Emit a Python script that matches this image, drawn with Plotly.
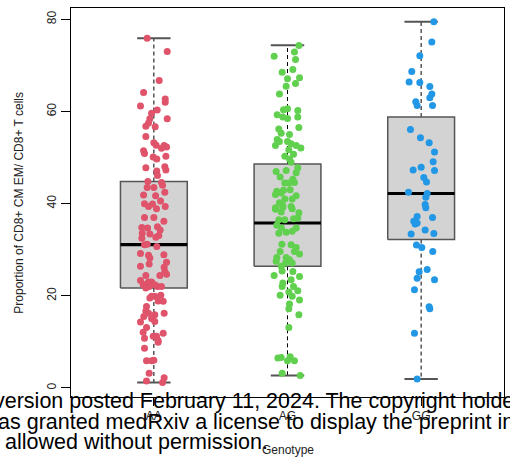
import plotly.graph_objects as go

# ---------------- data ----------------
categories = ["AA", "AG", "GG"]
tick_vals = [1, 2, 3]
q1 = [21.7, 26.4, 32.2]
median = [31.1, 35.8, 42.2]
q3 = [44.8, 48.6, 58.8]
lower = [1.2, 2.7, 1.95]
upper = [75.9, 74.4, 79.5]
y_ticks = [0, 20, 40, 60, 80]

aa_values = [75.9, 73.0, 66.7, 64.1, 62.7, 62.0, 61.2, 60.3, 59.6, 58.4, 58.4, 57.5, 56.8, 56.7,
             54.6, 53.2, 52.7, 52.6, 52.3, 52.0, 51.5, 50.9, 50.3, 50.1, 49.7, 47.8, 48.0, 47.3,
             47.1, 46.1, 44.8, 44.6, 43.5, 43.5, 44.0, 41.9, 41.7, 42.5, 40.0, 39.9, 40.6, 39.4,
             39.4, 38.9, 37.0, 37.0, 36.2, 34.8, 34.7, 35.0, 34.3, 33.6, 33.4, 33.1, 32.7, 32.5,
             31.1, 31.2, 30.7, 29.2, 28.8, 28.9, 28.2, 27.3, 26.4, 26.9, 26.2, 25.3, 24.7, 24.4,
             24.4, 23.3, 23.0, 23.0, 22.4, 22.5, 22.4, 22.0, 22.0, 21.7, 22.0, 19.9, 19.9, 20.1,
             19.5, 18.8, 18.9, 17.7, 16.7, 16.2, 15.9, 16.2, 15.5, 15.1, 14.3, 14.4, 13.1, 12.1,
             11.9, 11.2, 11.2, 10.8, 10.3, 9.9, 8.6, 5.9, 5.9, 6.0, 3.2, 1.5, 2.2, 1.2]
aa_jitter = [-0.05, 0.1, 0.04, -0.077, 0.085, 0.085, -0.1, 0.025, -0.017, 0.1, -0.03, -0.04, -0.06, 0.01,
             -0.06, 0.0, 0.017, 0.077, 0.095, 0.057, -0.077, -0.07, 0.09, -0.005, 0.022, -0.06, 0.082, 0.09,
             0.022, 0.027, -0.045, 0.057, -0.05, 0.0, 0.065, -0.077, 0.013, 0.082, -0.07, -0.01, 0.05, 0.085,
             -0.04, 0.02, -0.07, 0.0, 0.075, -0.09, -0.047, 0.027, 0.047, -0.087, -0.03, 0.037, 0.015, -0.09,
             -0.07, -0.05, 0.022, -0.1, -0.04, 0.075, -0.03, 0.095, -0.1, -0.035, 0.077, 0.082, 0.095, -0.06,
             0.045, -0.1, -0.04, -0.017, -0.08, -0.055, 0.007, 0.027, -0.035, -0.06, 0.057, -0.017, 0.007, 0.052,
             -0.03, 0.07, 0.032, -0.055, -0.06, -0.04, 0.007, 0.077, -0.075, -0.017, -0.1, 0.007, -0.055, -0.08,
             0.07, -0.005, 0.02, -0.07, 0.032, 0.032, -0.07, -0.055, -0.017, 0.0, -0.035, -0.055, 0.077, 0.065]

ag_values = [74.3, 72.0, 72.9, 71.3, 68.5, 69.1, 67.1, 67.3, 66.1, 65.5, 63.8, 60.6, 60.4, 60.2,
             59.3, 58.8, 58.5, 58.8, 56.5, 56.2, 55.3, 55.0, 53.9, 53.5, 53.0, 52.6, 52.1, 52.6,
             53.5, 51.7, 50.3, 50.7, 49.7, 49.0, 47.8, 47.0, 47.2, 46.7, 45.8, 45.3, 44.5, 44.5,
             44.6, 42.7, 42.3, 42.9, 43.0, 42.0, 41.7, 41.0, 41.0, 40.2, 39.6, 39.1, 39.4, 38.8,
             39.2, 38.9, 38.2, 38.0, 36.5, 36.5, 36.7, 36.9, 35.3, 34.7, 34.7, 33.6, 33.8, 34.0,
             31.2, 31.1, 30.5, 29.6, 29.1, 29.6, 28.3, 28.3, 27.5, 27.8, 27.1, 27.1, 26.4, 24.4,
             25.4, 25.3, 24.2, 23.5, 22.8, 22.0, 22.0, 21.1, 20.8, 20.1, 19.9, 19.1, 18.2, 17.2,
             15.9, 13.1, 6.5, 6.6, 6.8, 5.9, 5.9, 3.2, 2.7]
ag_jitter = [0.085, -0.1, 0.052, 0.06, -0.04, 0.04, 0.0, 0.09, 0.06, -0.01, -0.06, 0.0, -0.03, 0.077,
             -0.077, 0.077, 0.0, -0.035, 0.085, -0.065, -0.047, 0.015, -0.077, 0.0, 0.027, 0.065, 0.1, -0.09,
             -0.06, 0.01, -0.02, 0.045, 0.015, 0.027, 0.077, -0.085, -0.01, 0.065, -0.055, 0.04, -0.02, 0.01,
             0.052, -0.08, -0.047, -0.03, 0.02, -0.09, 0.065, -0.02, 0.035, -0.06, -0.035, -0.09, 0.027, -0.09,
             -0.035, 0.035, -0.047, 0.085, -0.065, -0.02, 0.045, 0.077, -0.08, -0.045, 0.065, -0.065, -0.01, 0.035,
             -0.042, 0.027, 0.065, 0.052, 0.09, -0.055, -0.08, -0.01, -0.085, 0.015, 0.035, -0.015, -0.047, -0.1,
             -0.04, 0.04, 0.09, 0.027, -0.035, -0.04, 0.045, 0.077, 0.01, -0.055, 0.035, 0.09, 0.015, 0.01,
             0.085, 0.01, -0.072, -0.047, 0.02, 0.0, 0.052, -0.04, 0.095]

gg_values = [79.5, 75.1, 72.1, 68.7, 66.4, 66.3, 65.4, 63.8, 63.0, 62.1, 61.3, 61.3, 56.1, 54.3,
             53.2, 51.2, 49.1, 47.3, 47.9, 47.2, 45.7, 44.7, 42.5, 42.2, 41.4, 39.8, 39.1, 37.2,
             37.0, 36.2, 35.8, 35.6, 34.3, 33.4, 33.5, 31.0, 30.5, 29.6, 25.2, 25.7, 23.8, 23.5,
             21.3, 17.6, 17.2, 11.9, 1.95]
gg_jitter = [0.095, 0.08, -0.01, -0.07, -0.09, -0.01, 0.065, 0.08, 0.065, -0.04, -0.03, 0.085, -0.08, -0.005,
             0.06, 0.1, 0.09, -0.06, 0.0, 0.1, 0.02, 0.04, -0.095, 0.045, 0.035, 0.03, 0.035, -0.03,
             0.085, -0.055, -0.03, -0.045, 0.03, -0.075, 0.095, -0.035, 0.005, 0.087, -0.015, 0.045, -0.03, 0.1,
             -0.05, 0.06, 0.065, -0.05, -0.03]

group_values = [aa_values, ag_values, gg_values]
group_jitter = [aa_jitter, ag_jitter, gg_jitter]
point_colors = ["#DF536B", "#61D04F", "#2297E6"]

overlay_lines = ["version posted February 11, 2024. The copyright holder",
                 "as granted medRxiv a license to display the preprint in",
                 "allowed without permission."]

# ---------------- styles ----------------
BOX_HALF = 0.25
CAP_HALF = 0.125
FONT = "Liberation Sans, Arial, sans-serif"

fig = go.Figure()

for i, pos in enumerate(tick_vals):
    # whiskers
    fig.add_trace(go.Scatter(
        x=[pos, pos, None, pos, pos], y=[q3[i], upper[i], None, q1[i], lower[i]],
        mode="lines", line=dict(color="black", width=1, dash="4px,3px"),
        hoverinfo="skip", showlegend=False))
    # box
    fig.add_trace(go.Scatter(
        x=[pos - BOX_HALF, pos + BOX_HALF, pos + BOX_HALF, pos - BOX_HALF, pos - BOX_HALF],
        y=[q1[i], q1[i], q3[i], q3[i], q1[i]],
        mode="lines", fill="toself", fillcolor="#D3D3D3",
        line=dict(color="#555555", width=1.5), hoverinfo="skip", showlegend=False))
    # median
    fig.add_trace(go.Scatter(
        x=[pos - BOX_HALF, pos + BOX_HALF], y=[median[i], median[i]],
        mode="lines", line=dict(color="black", width=3.2),
        hoverinfo="skip", showlegend=False))
    # staples
    fig.add_trace(go.Scatter(
        x=[pos - CAP_HALF, pos + CAP_HALF, None, pos - CAP_HALF, pos + CAP_HALF],
        y=[upper[i], upper[i], None, lower[i], lower[i]],
        mode="lines", line=dict(color="#555555", width=2),
        hoverinfo="skip", showlegend=False))

for i, pos in enumerate(tick_vals):
    fig.add_trace(go.Scatter(
        x=[pos + j for j in group_jitter[i]], y=group_values[i],
        mode="markers", marker=dict(color=point_colors[i], size=7, line=dict(width=0)),
        name=categories[i], showlegend=False))

fig.update_xaxes(
    range=[0.38, 3.62], tickmode="array", tickvals=tick_vals, ticktext=categories,
    showgrid=False, zeroline=False, showline=True, mirror=True, linecolor="black", linewidth=1,
    ticks="outside", ticklen=8, tickcolor="black",
    tickfont=dict(family=FONT, size=12, color="#222222"))
fig.update_yaxes(
    range=[-1.96, 82.46], tickmode="array", tickvals=y_ticks, ticktext=[str(v) for v in y_ticks],
    showgrid=False, zeroline=False, showline=True, mirror=True, linecolor="black", linewidth=1,
    ticks="outside", ticklen=9, tickcolor="black", tickangle=-90,
    tickfont=dict(family=FONT, size=12, color="#222222"))

annotations = [
    dict(text="Proportion of CD8+ CM EM/ CD8+ T cells", xref="paper", yref="paper",
         x=-0.122, y=0.5, xanchor="center", yanchor="middle", textangle=-90, showarrow=False,
         font=dict(family=FONT, size=12, color="#222222")),
    dict(text="Genotype", xref="paper", yref="paper", x=0.5, y=-0.137,
         xanchor="center", yanchor="middle", showarrow=False,
         font=dict(family=FONT, size=12, color="#222222")),
]
overlay_x = [-0.181, -0.172, -0.154]
overlay_y = [-0.011, -0.063, -0.115]
for txt, ox, oy in zip(overlay_lines, overlay_x, overlay_y):
    annotations.append(dict(text=txt, xref="paper", yref="paper", x=ox, y=oy,
                            xanchor="left", yanchor="middle", showarrow=False, borderpad=0,
                            font=dict(family=FONT, size=21.5, color="black")))

fig.update_layout(
    width=510, height=461,
    margin=dict(l=71, r=6, t=8, b=64),
    paper_bgcolor="white", plot_bgcolor="white",
    annotations=annotations,
    showlegend=False)

fig.write_html("out.html")
